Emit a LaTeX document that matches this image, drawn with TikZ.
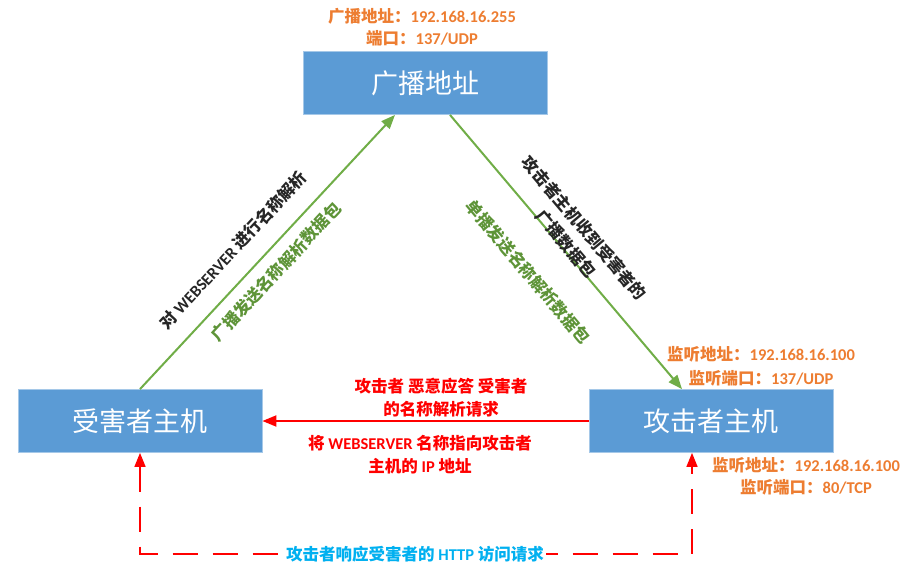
\documentclass[tikz,border=0pt]{standalone}
\usepackage{fontspec}
\setmainfont{Noto Sans CJK SC}
\newfontfamily\latfont{Carlito}
\usetikzlibrary{arrows.meta,positioning}
\definecolor{hostblue}{HTML}{5B9BD5}
\definecolor{linkgreen}{HTML}{70AD47}
\definecolor{textgreen}{HTML}{5E9438}
\definecolor{infoorange}{HTML}{ED7D31}
\definecolor{replyred}{HTML}{FF0000}
\definecolor{httpcyan}{HTML}{00B0F0}
\newcommand{\entxt}[1]{{\latfont #1}}

\begin{document}
\begin{tikzpicture}[x=1pt, y=-1pt,
    host/.style={draw=hostblue!55!white, fill=hostblue, line width=0.8pt, minimum width=244pt, minimum height=63pt, text=white, font=\fontsize{27}{32}\selectfont},
    arrow/.style={-{Triangle[length=14pt,width=11pt]}, line width=2pt, #1},
    arrow/.default={black},
    dasharrow/.style={{Triangle[length=14pt,width=11pt]}-{Triangle[length=14pt,width=11pt]}, line width=1.6pt, dash pattern=on 25pt off 15pt, #1},
    note/.style={font=\fontsize{16.5}{22}\selectfont\bfseries, align=center, inner sep=0pt},
    slant/.style={font=\fontsize{16.5}{24}\selectfont\bfseries, align=center, inner sep=0pt}
]
\useasboundingbox (0,0) rectangle (909,580);

% Hosts
\node[host] (bcast) at (425,83) {广播地址};
\node[host] (victim) at (140,421) {受害者主机};
\node[host] (attacker) at (711,421) {攻击者主机};

% Addresses and ports
\node[note, text=infoorange, above=5pt of bcast, xshift=-3pt] (bcastinfo) {广播地址：\entxt{192.168.16.255}\\端口：\entxt{137/UDP}};
\node[note, text=infoorange, above=3pt of attacker, xshift=50pt, font=\fontsize{16.5}{24}\selectfont\bfseries] (nbnsinfo) {监听地址：\entxt{192.168.16.100}\\监听端口：\entxt{137/UDP}};
\node[note, text=infoorange, below=4pt of attacker, xshift=95pt] (httpinfo) {监听地址：\entxt{192.168.16.100}\\监听端口：\entxt{80/TCP}};

% Broadcast query and its forwarding
\draw[arrow=linkgreen] (victim.north) -- ([xshift=-30pt]bcast.south);
\draw[arrow=linkgreen] ([xshift=25pt]bcast.south) -- ([xshift=-29pt]attacker.north);
\node[slant, text=black!85, rotate=47.2] (querytxt) at (233,250) {对 \entxt{WEBSERVER} 进行名称解析};
\node[slant, text=textgreen, rotate=47.2] (bcasttxt) at (276,272) {广播发送名称解析数据包};
\node[slant, text=black!85, rotate=-49.8] (recvtxt) at (575,236) {攻击者主机收到受害者的\\广播数据包};
\node[slant, text=textgreen, rotate=-49.8] (unitxt) at (528,272) {单播发送名称解析数据包};

% Spoofed reply
\draw[arrow=replyred] (attacker) -- (victim);
\node[note, text=replyred, font=\fontsize{16.5}{23}\selectfont\bfseries] (replytxt) at (441,398) {攻击者 恶意应答 受害者\\的名称解析请求};
\node[note, text=replyred, font=\fontsize{16.5}{23}\selectfont\bfseries] (pointtxt) at (420,455) {将 \entxt{WEBSERVER} 名称指向攻击者\\主机的 \entxt{IP} 地址};

% HTTP traffic
\coordinate (vcorner) at (140,554);
\coordinate (acorner) at (692,554);
\draw[dasharrow=replyred] (victim.south) -- (vcorner) -- (acorner) -- ([xshift=-19pt]attacker.south);
\node[note, text=httpcyan, fill=white, inner xsep=2pt] (httptxt) at (415,554) {攻击者响应受害者的 \entxt{HTTP} 访问请求};

\end{tikzpicture}
\end{document}
